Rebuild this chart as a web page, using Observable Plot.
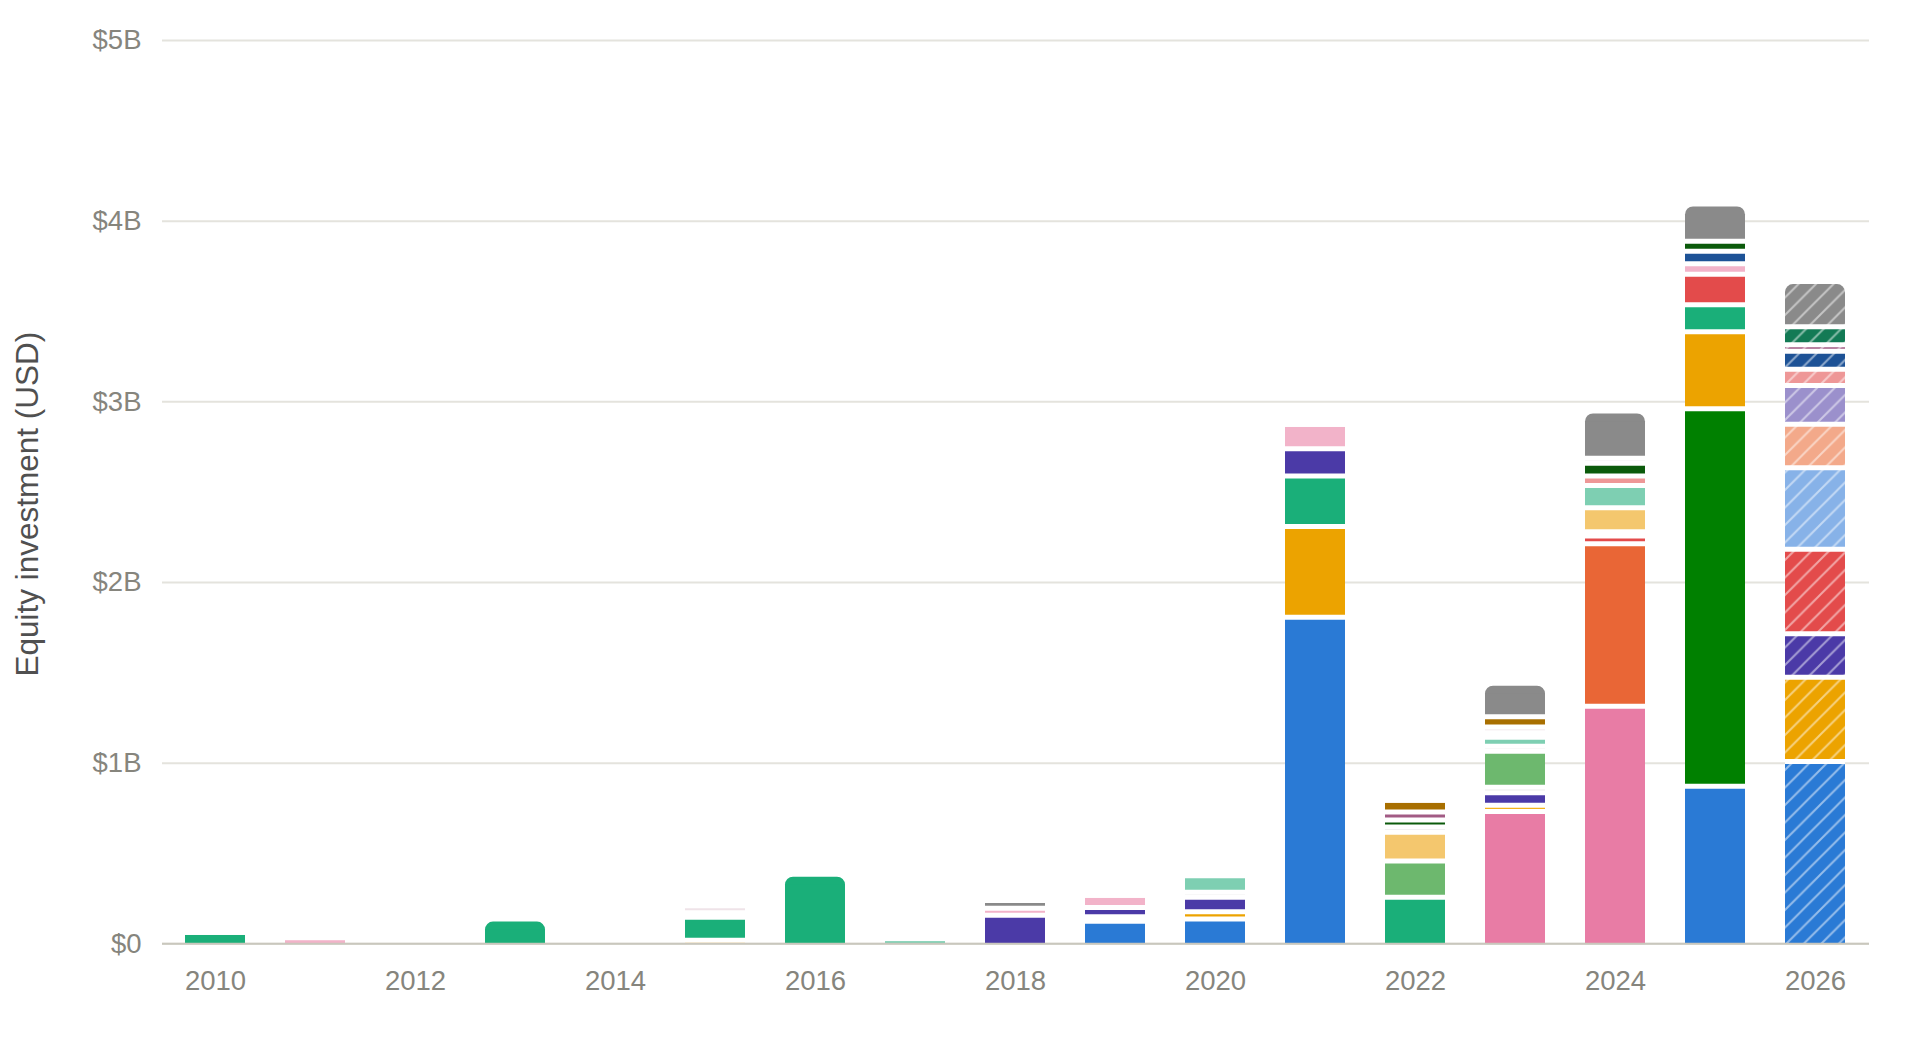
<!DOCTYPE html>
<html>
<head>
<meta charset="utf-8">
<script src="https://cdn.jsdelivr.net/npm/d3@7"></script>
<script src="https://cdn.jsdelivr.net/npm/@observablehq/plot@0.6"></script>
<style>
  html, body { margin: 0; padding: 0; background: #fff; }
  #chart svg { display: block; }
</style>
</head>
<body>
<div id="chart"></div>
<script>
// ---- Data (values in billions of USD), stacked bottom -> top ----
const years = [2010, 2011, 2012, 2013, 2014, 2015, 2016, 2017, 2018, 2019, 2020, 2021, 2022, 2023, 2024, 2025, 2026];
const tickYears = [2010, 2012, 2014, 2016, 2018, 2020, 2022, 2024, 2026];
const yTicks = [0, 1, 2, 3, 4, 5];
const yTitle = "Equity investment (USD)";
const projectedYears = [2026];
const roundedYears = [2013, 2016, 2023, 2024, 2025, 2026];

const c2010 = ["green"], v2010 = [0.046];
const c2011 = ["pinkLight"], v2011 = [0.017];
const c2012 = [], v2012 = [];
const c2013 = ["green"], v2013 = [0.120];
const c2014 = [], v2014 = [];
const c2015 = ["sand", "green", "minor", "faint"], v2015 = [0.020, 0.127, 0.025, 0.022];
const c2016 = ["green"], v2016 = [0.369];
const c2017 = ["teal"], v2017 = [0.012];
const c2018 = ["purple", "pinkLight", "gray"], v2018 = [0.158, 0.039, 0.026];
const c2019 = ["blue", "minor", "purple", "pinkLight"], v2019 = [0.125, 0.025, 0.051, 0.050];
const c2020 = ["blue", "amber", "purple", "minor", "teal"], v2020 = [0.137, 0.040, 0.080, 0.028, 0.075];
const c2021 = ["blue", "amber", "green", "purple", "pinkLight"], v2021 = [1.808, 0.502, 0.280, 0.150, 0.118];
const c2022 = ["green", "leaf", "sand", "minor", "forest", "mauve", "brown"], v2022 = [0.258, 0.200, 0.159, 0.029, 0.039, 0.045, 0.047];
const c2023 = ["pink", "gold", "purple", "minor", "leaf", "minor", "teal", "minor", "faint", "brown", "gray"];
const v2023 = [0.732, 0.035, 0.069, 0.030, 0.200, 0.027, 0.050, 0.025, 0.032, 0.057, 0.169];
const c2024 = ["pink", "orange", "red", "minor", "sand", "teal", "salmon", "forest", "minor", "gray"];
const v2024 = [1.315, 0.900, 0.042, 0.024, 0.132, 0.124, 0.053, 0.070, 0.027, 0.246];
const c2025 = ["blue", "kelly", "amber", "green", "red", "pinkLight", "navy", "forest", "gray"];
const v2025 = [0.872, 2.090, 0.426, 0.149, 0.169, 0.058, 0.070, 0.055, 0.190];
const c2026 = ["blue", "amber", "purple", "red", "sky", "peach", "lavender", "salmon", "navy", "mauve", "pine", "gray"];
const v2026 = [1.009, 0.466, 0.241, 0.468, 0.451, 0.241, 0.214, 0.090, 0.100, 0.036, 0.100, 0.233];

// ---- Styles ----
const palette = {
  green: "#1aaf79", pinkLight: "#f2b3c9", blue: "#2a7ad5", amber: "#eca300",
  purple: "#4b3aa7", teal: "#7ecfb2", gray: "#8a8a8a", pink: "#e87ca5",
  orange: "#e96636", red: "#e34b4b", sand: "#f4c76e", leaf: "#6db86e",
  forest: "#0b5a0b", kelly: "#008000", brown: "#a86f00", mauve: "#a25b84",
  salmon: "#ee9797", navy: "#1d5296", sky: "#87b2e8", peach: "#f3a98a",
  lavender: "#9b90cc", pine: "#137a55", faint: "#efe3e8", gold: "#f5b21a",
  minor: "#d8d8d8"
};

// ---- Build table ----
const perYear = [
  [2010, c2010, v2010], [2011, c2011, v2011], [2012, c2012, v2012], [2013, c2013, v2013],
  [2014, c2014, v2014], [2015, c2015, v2015], [2016, c2016, v2016], [2017, c2017, v2017],
  [2018, c2018, v2018], [2019, c2019, v2019], [2020, c2020, v2020], [2021, c2021, v2021],
  [2022, c2022, v2022], [2023, c2023, v2023], [2024, c2024, v2024], [2025, c2025, v2025],
  [2026, c2026, v2026]
];
const rows = [];
for (const [yr, cats, vals] of perYear) {
  cats.forEach((c, i) => {
    const top = i === cats.length - 1;
    rows.push({
      year: yr, cat: c, value: vals[i], top,
      round: top && roundedYears.includes(yr),
      fill: projectedYears.includes(yr) ? `url(#hatch-${c})` : palette[c]
    });
  });
}

const stacked = (test, extra) =>
  Plot.filter(test, Plot.stackY({x: "year", y: "value", fill: "fill", ...extra}));

const plot = Plot.plot({
  width: 1920,
  height: 1062,
  marginLeft: 162,
  marginRight: 51,
  marginTop: 40,
  marginBottom: 118.7,
  style: {fontFamily: "'Liberation Sans', Arial, Helvetica, sans-serif", color: "#86857d", background: "#fff", overflow: "visible"},
  x: {type: "band", domain: years, paddingInner: 0.4, paddingOuter: 0.2},
  y: {domain: [0, 5]},
  color: {type: "identity"},
  marks: [
    Plot.gridY(yTicks, {stroke: "#e4e3dd", strokeOpacity: 1, strokeWidth: 2}),
    Plot.barY(rows, stacked(d => !d.round, {})),
    Plot.barY(rows, stacked(d => d.round, {rx: 8})),
    Plot.barY(rows, stacked(d => d.round, {insetTop: 8})),
    Plot.tickY(rows, Plot.filter(d => !d.top, Plot.stackY2({x: "year", y: "value", stroke: "#ffffff", strokeWidth: 5}))),
    Plot.ruleY([0], {stroke: "#c9c7bd", strokeWidth: 2}),
    Plot.axisY({ticks: yTicks, tickSize: 0, tickPadding: 21, fontSize: 27.5,
      tickFormat: d => d === 0 ? "$0" : `$${d}B`, label: null}),
    Plot.axisX({ticks: tickYears, tickSize: 0, tickPadding: 27, fontSize: 27.5,
      tickFormat: d => String(d), label: null}),
    Plot.text([yTitle], {frameAnchor: "left", textAnchor: "middle", lineAnchor: "middle",
      rotate: -90, dx: -134.5, dy: 12, fontSize: 31.5, fill: "#505050"})
  ]
});

// Hatch patterns for projected years
const hatchCats = new Set(rows.filter(d => projectedYears.includes(d.year)).map(d => d.cat));
const defs = d3.select(plot).insert("defs", ":first-child");
const s = 17.5;
for (const c of hatchCats) {
  const p = defs.append("pattern")
    .attr("id", `hatch-${c}`)
    .attr("patternUnits", "userSpaceOnUse")
    .attr("width", s).attr("height", s);
  p.append("rect").attr("width", s).attr("height", s).attr("fill", palette[c]);
  p.append("path")
    .attr("d", `M${-s/4},${s/4} L${s/4},${-s/4} M0,${s} L${s},0 M${s*3/4},${s*5/4} L${s*5/4},${s*3/4}`)
    .attr("stroke", "#ffffff").attr("stroke-opacity", 0.5).attr("stroke-width", 2);
}

document.getElementById("chart").appendChild(plot);
</script>
</body>
</html>
